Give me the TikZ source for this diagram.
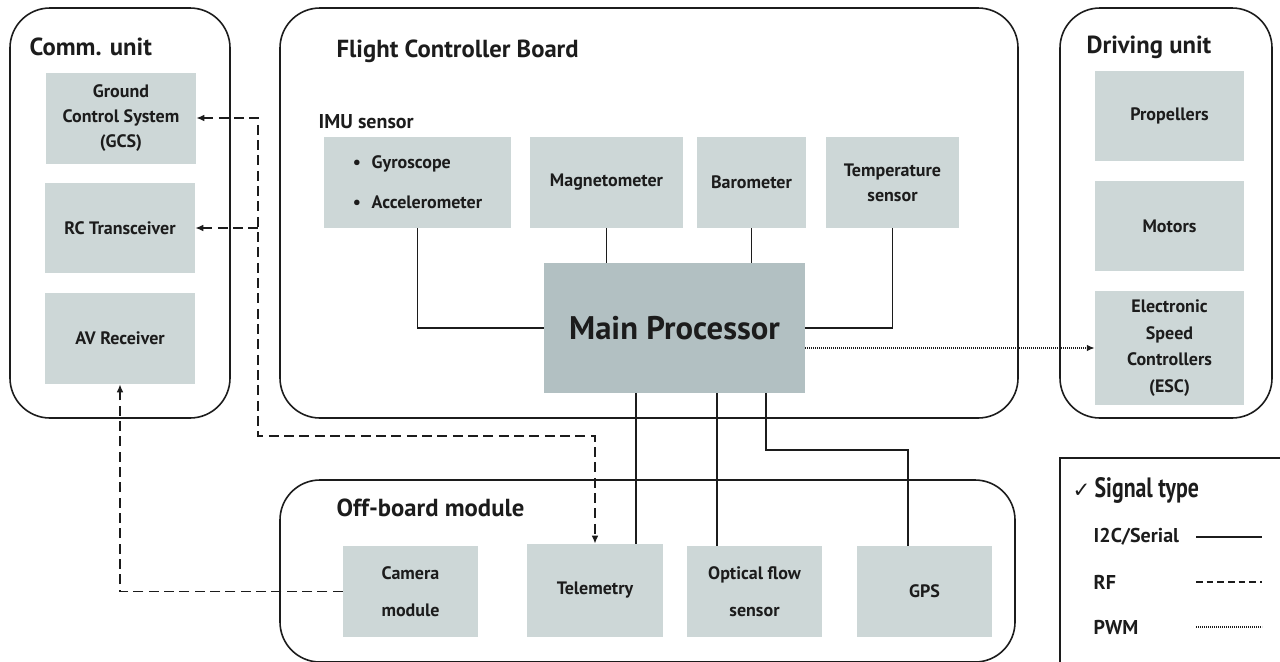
\documentclass[tikz,border=0pt]{standalone}
\usepackage{fontspec}
\setmainfont{PT Sans}
\newfontfamily\narrowfont{PT Sans}[FakeStretch=0.78]
\newfontfamily\symfont{DejaVu Sans}
\usetikzlibrary{arrows.meta,positioning,calc}
\definecolor{boxgray}{RGB}{205,215,215}
\definecolor{maingray}{RGB}{178,192,194}
\definecolor{inkgray}{RGB}{28,28,28}

\begin{document}
\begin{tikzpicture}[
  x=0.75pt,y=-0.75pt,
  >={Latex[length=6pt,width=5pt]},
  unit/.style={draw=inkgray,line width=1.2pt,rounded corners=30pt},
  blk/.style={fill=boxgray,inner sep=2pt,align=center,text=inkgray,
    font=\bfseries\fontsize{13.5}{19}\selectfont},
  ttl/.style={anchor=west,text=inkgray,font=\bfseries\fontsize{18.5}{21}\selectfont},
  lab/.style={anchor=west,text=inkgray,font=\bfseries\fontsize{15}{17}\selectfont},
  i2c/.style={draw=inkgray,line width=1.2pt},
  rf/.style={draw=inkgray,line width=1.2pt,dash pattern=on 7.5pt off 4pt},
  pwm/.style={draw=inkgray,line width=1.1pt,dash pattern=on 0.9pt off 0.6pt}
]
\useasboundingbox (0,0) rectangle (1280,661);

% ---------------- containers ----------------
\draw[unit] (10,8) rectangle (230,418);
\draw[unit] (280,8) rectangle (1018,418);
\draw[unit] (1060,8) rectangle (1272,418);
\draw[unit] (280,480) rectangle (1015,662);
\draw[draw=inkgray,line width=1.2pt] (1060,458) rectangle (1284,665);

\node[ttl] (tcomm) at (25,47) {Comm. unit};
\node[ttl] (tfcb) at (332,51) {Flight Controller Board};
\node[ttl] (tdrv) at (1082,47) {Driving unit};
\node[ttl] (toff) at (332,508) {Off-board module};
\node[lab] (timu) at (314,122) {IMU sensor};

% ---------------- comm. unit ----------------
\node[blk,minimum width=112.5pt,minimum height=68.25pt] (gcs) at (121,118)
  {Ground\\Control System\\(GCS)};
\node[blk,minimum width=112.5pt,minimum height=67.5pt] (rc) at (120,228) {RC Transceiver};
\node[blk,minimum width=112.5pt,minimum height=68.25pt] (av) at (120,338.5) {AV Receiver};

% ---------------- flight controller board ----------------
\node[blk,align=left,minimum width=140.25pt,minimum height=68.25pt] (imu) at (417.5,182.5)
  {\textbullet\hspace{8pt}Gyroscope\\[11pt]\textbullet\hspace{8pt}Accelerometer};
\node[blk,minimum width=114.75pt,minimum height=68.25pt] (mag) at (606.5,182.5) {Magnetometer};
\node[blk,minimum width=81.75pt,minimum height=68.25pt] (baro) at (751.5,182.5) {Barometer};
\node[blk,minimum width=99.75pt,minimum height=68.25pt] (temp) at (892.5,182.5) {Temperature\\sensor};
\node[blk,fill=maingray,minimum width=195.75pt,minimum height=97.5pt,
  font=\bfseries\fontsize{24.5}{30}\selectfont] (main) at (674.5,328) {Main Processor};

% ---------------- driving unit ----------------
\node[blk,minimum width=111.75pt,minimum height=67.5pt] (prop) at (1169.5,116) {Propellers};
\node[blk,minimum width=111.75pt,minimum height=67.5pt] (mot) at (1169.5,226) {Motors};
\node[blk,minimum width=111.75pt,minimum height=85.5pt,font=\bfseries\fontsize{13.5}{20}\selectfont]
  (esc) at (1169.5,348) {Electronic\\Speed\\Controllers\\(ESC)};

% ---------------- off-board module ----------------
\node[blk,minimum width=101.25pt,minimum height=68.25pt] (cam) at (410.5,591.5) {Camera\\[9pt]module};
\node[blk,minimum width=102pt,minimum height=69.75pt] (tel) at (595,590.5) {Telemetry};
\node[blk,minimum width=101.25pt,minimum height=68.25pt] (opt) at (754.5,591.5) {Optical flow\\[9pt]sensor};
\node[blk,minimum width=101.25pt,minimum height=68.25pt] (gps) at (924.5,591.5) {GPS};

% ---------------- bus points ----------------
\coordinate (bus) at (258,0);
\coordinate (rfy) at (0,436);
\coordinate (tx) at (636,0);
\coordinate (ox) at (717,0);
\coordinate (gx) at (766,0);
\coordinate (gy) at (0,450);
\coordinate (gx2) at (908,0);

% I2C / serial
\draw[i2c] (imu.south) |- (main.west);
\draw[i2c] (mag.south) -- (mag.south |- main.north);
\draw[i2c] (baro.south) -- (baro.south |- main.north);
\draw[i2c] (temp.south) |- (main.east);
\draw[i2c] (main.south -| tx) -- (tel.north -| tx);
\draw[i2c] (main.south -| ox) -- (opt.north -| ox);
\draw[i2c] (main.south -| gx) -- (gx |- gy) -- (gx2 |- gy) -- (gps.north -| gx2);

% RF
\draw[rf,<->] (gcs.east) -- (gcs.east -| bus) -- (bus |- rfy) -| (tel.north);
\draw[rf,<-] (rc.east) -- (rc.east -| bus);
\draw[rf,->] (cam.west) -| (av.south);

% PWM
\draw[pwm,->] (main.east |- esc.west) -- (esc.west);

% ---------------- legend ----------------
\node[anchor=west,text=inkgray,font=\fontsize{21}{24}\selectfont] (lgt) at (1068,490)
  {{\symfont\fontsize{16}{18}\selectfont ✓}\hspace{3pt}{\narrowfont\bfseries Signal type}};
\node[lab] (li2c) at (1089,537) {I2C/Serial};
\node[lab] (lrf) at (1089,582) {RF};
\node[lab] (lpwm) at (1089,627) {PWM};
\coordinate (l1a) at (1196,537);
\coordinate (l1b) at (1262,537);
\coordinate (l2a) at (1196,582);
\coordinate (l2b) at (1262,582);
\coordinate (l3a) at (1196,627);
\coordinate (l3b) at (1262,627);
\draw[i2c] (l1a) -- (l1b);
\draw[rf,dash pattern=on 5pt off 3pt] (l2a) -- (l2b);
\draw[pwm] (l3a) -- (l3b);
\end{tikzpicture}
\end{document}
